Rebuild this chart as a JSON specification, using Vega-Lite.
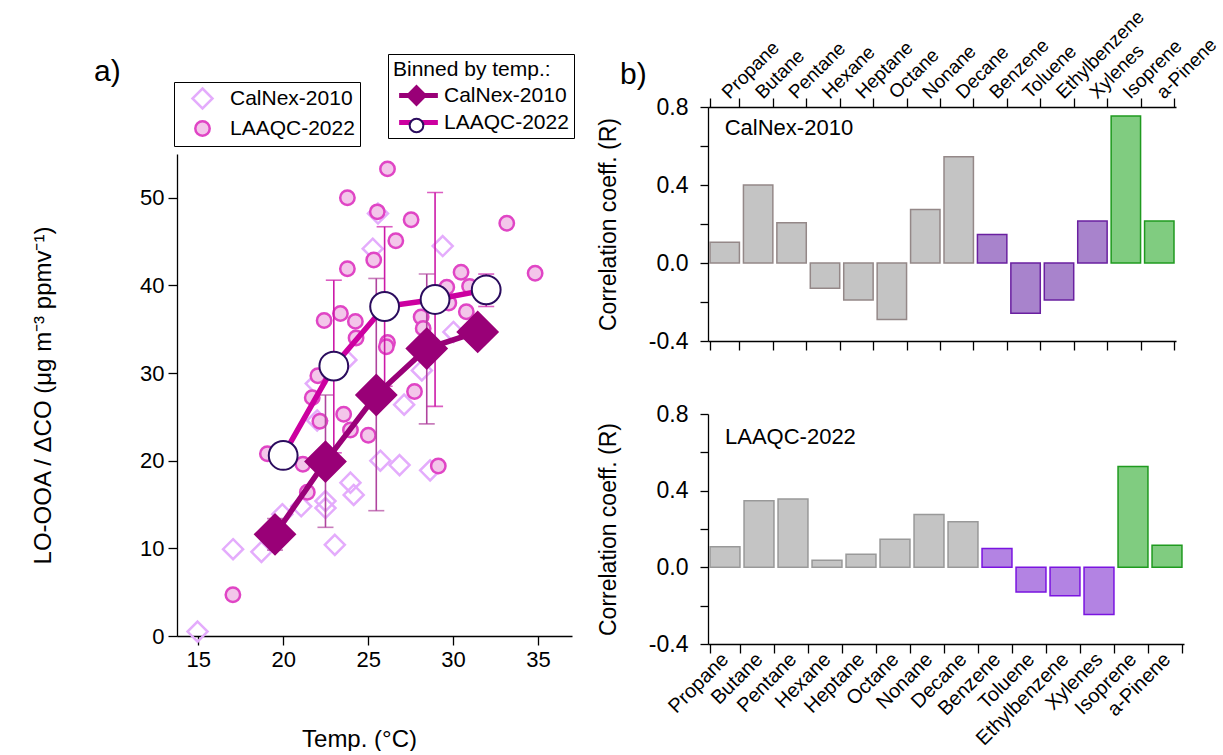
{
  "$schema": "https://vega.github.io/schema/vega-lite/v6.json",
  "background": "white",
  "padding": {"left": 31, "top": 7, "right": 0, "bottom": 0},
  "config": {
    "font": "Liberation Sans",
    "view": {"stroke": null},
    "axis": {"grid": false, "domainColor": "black", "tickColor": "black", "labelColor": "black", "titleColor": "black", "titleFontWeight": "normal", "domainWidth": 1.3, "tickWidth": 1.3, "labelFont": "Liberation Sans", "titleFont": "Liberation Sans"},
    "legend": {"labelFont": "Liberation Sans", "titleFont": "Liberation Sans", "labelColor": "black", "titleColor": "black"},
    "title": {"font": "Liberation Sans", "color": "black", "fontWeight": "normal"}
  },
  "datasets": {
    "temp": [
      {"kind": "raw", "campaign": "CalNex-2010", "T": 14.96, "R": 0.5},
      {"kind": "raw", "campaign": "CalNex-2010", "T": 17.05, "R": 9.9},
      {"kind": "raw", "campaign": "CalNex-2010", "T": 18.72, "R": 9.6},
      {"kind": "raw", "campaign": "CalNex-2010", "T": 19.95, "R": 13.9},
      {"kind": "raw", "campaign": "CalNex-2010", "T": 21.06, "R": 14.8},
      {"kind": "raw", "campaign": "CalNex-2010", "T": 22.49, "R": 15.4},
      {"kind": "raw", "campaign": "CalNex-2010", "T": 22.49, "R": 14.6},
      {"kind": "raw", "campaign": "CalNex-2010", "T": 23.04, "R": 10.4},
      {"kind": "raw", "campaign": "CalNex-2010", "T": 23.96, "R": 17.5},
      {"kind": "raw", "campaign": "CalNex-2010", "T": 24.15, "R": 16.1},
      {"kind": "raw", "campaign": "CalNex-2010", "T": 25.72, "R": 20.0},
      {"kind": "raw", "campaign": "CalNex-2010", "T": 26.85, "R": 19.5},
      {"kind": "raw", "campaign": "CalNex-2010", "T": 28.65, "R": 18.9},
      {"kind": "raw", "campaign": "CalNex-2010", "T": 22.0, "R": 24.6},
      {"kind": "raw", "campaign": "CalNex-2010", "T": 21.92, "R": 28.8},
      {"kind": "raw", "campaign": "CalNex-2010", "T": 23.72, "R": 31.5},
      {"kind": "raw", "campaign": "CalNex-2010", "T": 27.12, "R": 26.4},
      {"kind": "raw", "campaign": "CalNex-2010", "T": 28.16, "R": 30.3},
      {"kind": "raw", "campaign": "CalNex-2010", "T": 30.02, "R": 34.7},
      {"kind": "raw", "campaign": "CalNex-2010", "T": 25.27, "R": 44.2},
      {"kind": "raw", "campaign": "CalNex-2010", "T": 25.58, "R": 48.2},
      {"kind": "raw", "campaign": "CalNex-2010", "T": 29.39, "R": 44.5},
      {"kind": "raw", "campaign": "LAAQC-2022", "T": 26.14, "R": 53.3},
      {"kind": "raw", "campaign": "LAAQC-2022", "T": 23.78, "R": 50.0},
      {"kind": "raw", "campaign": "LAAQC-2022", "T": 25.54, "R": 48.4},
      {"kind": "raw", "campaign": "LAAQC-2022", "T": 27.53, "R": 47.5},
      {"kind": "raw", "campaign": "LAAQC-2022", "T": 26.63, "R": 45.1},
      {"kind": "raw", "campaign": "LAAQC-2022", "T": 25.33, "R": 42.9},
      {"kind": "raw", "campaign": "LAAQC-2022", "T": 33.16, "R": 47.1},
      {"kind": "raw", "campaign": "LAAQC-2022", "T": 34.83, "R": 41.4},
      {"kind": "raw", "campaign": "LAAQC-2022", "T": 23.78, "R": 41.9},
      {"kind": "raw", "campaign": "LAAQC-2022", "T": 30.47, "R": 41.5},
      {"kind": "raw", "campaign": "LAAQC-2022", "T": 29.63, "R": 39.8},
      {"kind": "raw", "campaign": "LAAQC-2022", "T": 30.97, "R": 39.9},
      {"kind": "raw", "campaign": "LAAQC-2022", "T": 29.75, "R": 38.0},
      {"kind": "raw", "campaign": "LAAQC-2022", "T": 30.78, "R": 37.0},
      {"kind": "raw", "campaign": "LAAQC-2022", "T": 28.12, "R": 36.4},
      {"kind": "raw", "campaign": "LAAQC-2022", "T": 28.24, "R": 35.1},
      {"kind": "raw", "campaign": "LAAQC-2022", "T": 22.41, "R": 36.0},
      {"kind": "raw", "campaign": "LAAQC-2022", "T": 23.37, "R": 36.8},
      {"kind": "raw", "campaign": "LAAQC-2022", "T": 24.25, "R": 35.9},
      {"kind": "raw", "campaign": "LAAQC-2022", "T": 24.29, "R": 34.0},
      {"kind": "raw", "campaign": "LAAQC-2022", "T": 26.14, "R": 33.5},
      {"kind": "raw", "campaign": "LAAQC-2022", "T": 26.07, "R": 33.0},
      {"kind": "raw", "campaign": "LAAQC-2022", "T": 22.04, "R": 29.7},
      {"kind": "raw", "campaign": "LAAQC-2022", "T": 21.71, "R": 27.2},
      {"kind": "raw", "campaign": "LAAQC-2022", "T": 27.73, "R": 27.9},
      {"kind": "raw", "campaign": "LAAQC-2022", "T": 23.56, "R": 25.3},
      {"kind": "raw", "campaign": "LAAQC-2022", "T": 22.16, "R": 24.5},
      {"kind": "raw", "campaign": "LAAQC-2022", "T": 23.96, "R": 23.5},
      {"kind": "raw", "campaign": "LAAQC-2022", "T": 25.01, "R": 22.9},
      {"kind": "raw", "campaign": "LAAQC-2022", "T": 19.07, "R": 20.8},
      {"kind": "raw", "campaign": "LAAQC-2022", "T": 21.16, "R": 19.6},
      {"kind": "raw", "campaign": "LAAQC-2022", "T": 29.13, "R": 19.4},
      {"kind": "raw", "campaign": "LAAQC-2022", "T": 21.42, "R": 16.4},
      {"kind": "raw", "campaign": "LAAQC-2022", "T": 17.04, "R": 4.7},
      {"kind": "bin", "campaign": "CalNex-2010", "T": 19.52, "R": 11.6, "lo": 9.8, "hi": 13.4},
      {"kind": "bin", "campaign": "CalNex-2010", "T": 22.49, "R": 19.9, "lo": 12.4, "hi": 27.5},
      {"kind": "bin", "campaign": "CalNex-2010", "T": 25.48, "R": 27.5, "lo": 14.3, "hi": 40.8},
      {"kind": "bin", "campaign": "CalNex-2010", "T": 28.45, "R": 32.8, "lo": 24.2, "hi": 41.3},
      {"kind": "bin", "campaign": "CalNex-2010", "T": 31.45, "R": 34.7},
      {"kind": "bin", "campaign": "LAAQC-2022", "T": 20.0, "R": 20.6},
      {"kind": "bin", "campaign": "LAAQC-2022", "T": 22.98, "R": 30.8, "lo": 20.9, "hi": 40.6},
      {"kind": "bin", "campaign": "LAAQC-2022", "T": 25.97, "R": 37.6, "lo": 28.5, "hi": 46.7},
      {"kind": "bin", "campaign": "LAAQC-2022", "T": 28.94, "R": 38.4, "lo": 26.2, "hi": 50.6},
      {"kind": "bin", "campaign": "LAAQC-2022", "T": 31.95, "R": 39.5, "lo": 37.6, "hi": 41.3}
    ],
    "corr": [
      {"campaign": "CalNex-2010", "compound": "Propane", "group": "alkane", "R": 0.107},
      {"campaign": "CalNex-2010", "compound": "Butane", "group": "alkane", "R": 0.40},
      {"campaign": "CalNex-2010", "compound": "Pentane", "group": "alkane", "R": 0.206},
      {"campaign": "CalNex-2010", "compound": "Hexane", "group": "alkane", "R": -0.13},
      {"campaign": "CalNex-2010", "compound": "Heptane", "group": "alkane", "R": -0.19},
      {"campaign": "CalNex-2010", "compound": "Octane", "group": "alkane", "R": -0.29},
      {"campaign": "CalNex-2010", "compound": "Nonane", "group": "alkane", "R": 0.275},
      {"campaign": "CalNex-2010", "compound": "Decane", "group": "alkane", "R": 0.545},
      {"campaign": "CalNex-2010", "compound": "Benzene", "group": "aromatic", "R": 0.146},
      {"campaign": "CalNex-2010", "compound": "Toluene", "group": "aromatic", "R": -0.258},
      {"campaign": "CalNex-2010", "compound": "Ethylbenzene", "group": "aromatic", "R": -0.19},
      {"campaign": "CalNex-2010", "compound": "Xylenes", "group": "aromatic", "R": 0.215},
      {"campaign": "CalNex-2010", "compound": "Isoprene", "group": "biogenic", "R": 0.754},
      {"campaign": "CalNex-2010", "compound": "a-Pinene", "group": "biogenic", "R": 0.215},
      {"campaign": "LAAQC-2022", "compound": "Propane", "group": "alkane", "R": 0.107},
      {"campaign": "LAAQC-2022", "compound": "Butane", "group": "alkane", "R": 0.348},
      {"campaign": "LAAQC-2022", "compound": "Pentane", "group": "alkane", "R": 0.356},
      {"campaign": "LAAQC-2022", "compound": "Hexane", "group": "alkane", "R": 0.037},
      {"campaign": "LAAQC-2022", "compound": "Heptane", "group": "alkane", "R": 0.068},
      {"campaign": "LAAQC-2022", "compound": "Octane", "group": "alkane", "R": 0.147},
      {"campaign": "LAAQC-2022", "compound": "Nonane", "group": "alkane", "R": 0.276},
      {"campaign": "LAAQC-2022", "compound": "Decane", "group": "alkane", "R": 0.238},
      {"campaign": "LAAQC-2022", "compound": "Benzene", "group": "aromatic", "R": 0.098},
      {"campaign": "LAAQC-2022", "compound": "Toluene", "group": "aromatic", "R": -0.129},
      {"campaign": "LAAQC-2022", "compound": "Ethylbenzene", "group": "aromatic", "R": -0.148},
      {"campaign": "LAAQC-2022", "compound": "Xylenes", "group": "aromatic", "R": -0.246},
      {"campaign": "LAAQC-2022", "compound": "Isoprene", "group": "biogenic", "R": 0.526},
      {"campaign": "LAAQC-2022", "compound": "a-Pinene", "group": "biogenic", "R": 0.115}
    ],
    "ann": [
      {"campaign": "CalNex-2010", "compound": "Propane", "R": 0.69, "label": "CalNex-2010"},
      {"campaign": "LAAQC-2022", "compound": "Propane", "R": 0.68, "label": "LAAQC-2022"}
    ]
  },
  "spacing": 22,
  "hconcat": [
    {
      "width": 395,
      "height": 529,
      "title": {"text": "a)", "anchor": "start", "frame": "group", "fontSize": 30, "offset": -33, "dx": -83},
      "data": {"name": "temp"},
      "layer": [
        {
          "transform": [{"filter": "datum.kind == 'raw'"}],
          "mark": {"type": "point", "filled": true, "opacity": 1, "size": 400, "strokeWidth": 2.5},
          "encoding": {
            "x": {"field": "T", "type": "quantitative", "scale": {"domain": [13.75, 37], "nice": false, "zero": false},
              "axis": {"values": [15, 20, 25, 30, 35], "title": "Temp. (°C)", "titleFontSize": 24, "titlePadding": 57, "titleX": 182, "labelFontSize": 22, "tickSize": 9, "labelPadding": 4}},
            "y": {"field": "R", "type": "quantitative", "scale": {"domain": [0, 55], "range": [529, 47], "nice": false, "zero": false},
              "axis": {"values": [0, 10, 20, 30, 40, 50], "title": "LO-OOA / ΔCO (μg m⁻³ ppmv⁻¹)", "titleFontSize": 24, "titlePadding": 84, "titleY": 288, "labelFontSize": 22, "tickSize": 9, "labelPadding": 4}},
            "shape": {"field": "campaign", "type": "nominal", "scale": {"range": ["M0,-1L1,0L0,1L-1,0Z", "M0.72,0A0.72,0.72,0,1,1,-0.72,0A0.72,0.72,0,1,1,0.72,0Z"]},
              "legend": {"orient": "none", "legendX": -3, "legendY": -25, "title": null, "strokeColor": "black", "fillColor": "white", "padding": 5, "symbolSize": 400, "symbolStrokeWidth": 2.5, "symbolOffset": 12, "labelOffset": 16, "labelFontSize": 21, "rowPadding": 2}},
            "fill": {"field": "campaign", "type": "nominal", "scale": {"range": ["transparent", "#f3c6ea"]}},
            "stroke": {"field": "campaign", "type": "nominal", "scale": {"range": ["#e4acfc", "#e045c5"]}}
          }
        },
        {
          "transform": [{"filter": "datum.kind == 'bin' && datum.campaign == 'CalNex-2010' && isValid(datum.lo)"}],
          "mark": {"type": "errorbar", "ticks": true, "size": 16, "thickness": 1.6, "color": "#b0449e"},
          "encoding": {
            "x": {"field": "T", "type": "quantitative", "scale": {"domain": [13.75, 37], "nice": false, "zero": false},
              "axis": {"values": [15, 20, 25, 30, 35], "title": "Temp. (°C)", "titleFontSize": 24, "titlePadding": 57, "titleX": 182, "labelFontSize": 22, "tickSize": 9, "labelPadding": 4}},
            "y": {"field": "lo", "type": "quantitative", "scale": {"domain": [0, 55], "range": [529, 47], "nice": false, "zero": false},
              "axis": {"values": [0, 10, 20, 30, 40, 50], "title": "LO-OOA / ΔCO (μg m⁻³ ppmv⁻¹)", "titleFontSize": 24, "titlePadding": 84, "titleY": 288, "labelFontSize": 22, "tickSize": 9, "labelPadding": 4}},
            "y2": {"field": "hi"}
          }
        },
        {
          "transform": [{"filter": "datum.kind == 'bin' && datum.campaign == 'LAAQC-2022' && isValid(datum.lo)"}],
          "mark": {"type": "errorbar", "ticks": true, "size": 16, "thickness": 1.6, "color": "#cc1aa8"},
          "encoding": {
            "x": {"field": "T", "type": "quantitative", "scale": {"domain": [13.75, 37], "nice": false, "zero": false},
              "axis": {"values": [15, 20, 25, 30, 35], "title": "Temp. (°C)", "titleFontSize": 24, "titlePadding": 57, "titleX": 182, "labelFontSize": 22, "tickSize": 9, "labelPadding": 4}},
            "y": {"field": "lo", "type": "quantitative", "scale": {"domain": [0, 55], "range": [529, 47], "nice": false, "zero": false},
              "axis": {"values": [0, 10, 20, 30, 40, 50], "title": "LO-OOA / ΔCO (μg m⁻³ ppmv⁻¹)", "titleFontSize": 24, "titlePadding": 84, "titleY": 288, "labelFontSize": 22, "tickSize": 9, "labelPadding": 4}},
            "y2": {"field": "hi"}
          }
        },
        {
          "transform": [{"filter": "datum.kind == 'bin'"}],
          "mark": {"type": "line", "strokeWidth": 5.5},
          "encoding": {
            "x": {"field": "T", "type": "quantitative", "scale": {"domain": [13.75, 37], "nice": false, "zero": false},
              "axis": {"values": [15, 20, 25, 30, 35], "title": "Temp. (°C)", "titleFontSize": 24, "titlePadding": 57, "titleX": 182, "labelFontSize": 22, "tickSize": 9, "labelPadding": 4}},
            "y": {"field": "R", "type": "quantitative", "scale": {"domain": [0, 55], "range": [529, 47], "nice": false, "zero": false},
              "axis": {"values": [0, 10, 20, 30, 40, 50], "title": "LO-OOA / ΔCO (μg m⁻³ ppmv⁻¹)", "titleFontSize": 24, "titlePadding": 84, "titleY": 288, "labelFontSize": 22, "tickSize": 9, "labelPadding": 4}},
            "stroke": {"field": "campaign", "type": "nominal", "scale": {"range": ["#990077", "#cc00a0"]},
              "legend": {"orient": "none", "legendX": 211, "legendY": -53, "title": "Binned by temp.:", "titleFontSize": 21, "titleFontWeight": "normal", "titlePadding": 5, "titleLimit": 300, "strokeColor": "black", "fillColor": "white", "padding": 5, "symbolType": "M-3.4,0H3.4", "symbolSize": 130, "symbolStrokeWidth": 5, "symbolOffset": 15, "labelOffset": 15, "labelFontSize": 21, "rowPadding": 5}}
          }
        },
        {
          "transform": [{"filter": "datum.kind == 'bin'"}],
          "mark": {"type": "point", "filled": true, "opacity": 1, "size": 1600, "strokeWidth": 2},
          "encoding": {
            "x": {"field": "T", "type": "quantitative", "scale": {"domain": [13.75, 37], "nice": false, "zero": false},
              "axis": {"values": [15, 20, 25, 30, 35], "title": "Temp. (°C)", "titleFontSize": 24, "titlePadding": 57, "titleX": 182, "labelFontSize": 22, "tickSize": 9, "labelPadding": 4}},
            "y": {"field": "R", "type": "quantitative", "scale": {"domain": [0, 55], "range": [529, 47], "nice": false, "zero": false},
              "axis": {"values": [0, 10, 20, 30, 40, 50], "title": "LO-OOA / ΔCO (μg m⁻³ ppmv⁻¹)", "titleFontSize": 24, "titlePadding": 84, "titleY": 288, "labelFontSize": 22, "tickSize": 9, "labelPadding": 4}},
            "shape": {"field": "campaign", "type": "nominal", "scale": {"range": ["M0,-1L1,0L0,1L-1,0Z", "M0.72,0A0.72,0.72,0,1,1,-0.72,0A0.72,0.72,0,1,1,0.72,0Z"]},
              "legend": {"orient": "none", "legendX": 211, "legendY": -53, "title": " ", "titleFontSize": 21, "titleFontWeight": "normal", "titlePadding": 5, "titleOpacity": 0, "labelExpr": "''", "labelOpacity": 0, "padding": 5, "symbolSize": 360, "symbolStrokeWidth": 2, "symbolOffset": 13, "labelOffset": 15, "labelFontSize": 21, "rowPadding": 5}},
            "fill": {"field": "campaign", "type": "nominal", "scale": {"range": ["#990077", "white"]}},
            "stroke": {"field": "campaign", "type": "nominal", "scale": {"range": ["#990077", "#2b0c5e"]}}
          }
        }
      ],
      "resolve": {"scale": {"shape": "independent", "fill": "independent", "stroke": "independent"}}
    },
    {
      "spacing": 50,
      "resolve": {"scale": {"fill": "independent", "stroke": "independent"}},
      "vconcat": [
        {
          "width": 468,
          "height": 234,
          "title": {"text": "b)", "anchor": "start", "frame": "group", "fontSize": 30, "offset": -83, "dx": -88},
          "layer": [
            {
              "data": {"name": "corr"},
              "transform": [{"filter": "datum.campaign == 'CalNex-2010'"}],
              "mark": {"type": "bar", "strokeWidth": 1.5},
              "encoding": {
                "x": {"field": "compound", "type": "nominal", "sort": null,
                  "scale": {"domain": ["Propane", "Butane", "Pentane", "Hexane", "Heptane", "Octane", "Nonane", "Decane", "Benzene", "Toluene", "Ethylbenzene", "Xylenes", "Isoprene", "a-Pinene"], "paddingInner": 0.12, "paddingOuter": 0.06},
                  "axis": {"orient": "top", "title": null, "labelAngle": -45, "labelAlign": "left", "labelBaseline": "middle", "tickBand": "extent", "tickSize": 9, "labelPadding": 3, "labelFontSize": 19}},
                "y": {"field": "R", "type": "quantitative", "scale": {"domain": [-0.4, 0.8], "nice": false},
                  "axis": {"values": [-0.4, -0.2, 0, 0.2, 0.4, 0.6, 0.8], "labelExpr": "abs((datum.value*10) % 4) > 0.01 ? '' : (datum.value < 0 ? '-' : '') + format(abs(datum.value), '.1f')", "title": "Correlation coeff. (R)", "titleFontSize": 23, "titlePadding": 28, "labelFontSize": 23, "tickSize": 8, "labelPadding": 12}},
                "fill": {"field": "group", "type": "nominal", "scale": {"domain": ["alkane", "aromatic", "biogenic"], "range": ["#c4c4c4", "#a883cc", "#80cc80"]}, "legend": null},
                "stroke": {"field": "group", "type": "nominal", "scale": {"domain": ["alkane", "aromatic", "biogenic"], "range": ["#948888", "#6a20a0", "#1f9a1f"]}, "legend": null}
              }
            },
            {
              "data": {"name": "ann"},
              "transform": [{"filter": "datum.campaign == 'CalNex-2010'"}],
              "mark": {"type": "text", "align": "left", "baseline": "middle", "fontSize": 22, "color": "black"},
              "encoding": {
                "x": {"field": "compound", "type": "nominal", "sort": null,
                  "scale": {"domain": ["Propane", "Butane", "Pentane", "Hexane", "Heptane", "Octane", "Nonane", "Decane", "Benzene", "Toluene", "Ethylbenzene", "Xylenes", "Isoprene", "a-Pinene"], "paddingInner": 0.12, "paddingOuter": 0.06},
                  "axis": {"orient": "bottom", "title": null, "labels": false, "tickBand": "extent", "tickSize": 9}},
                "y": {"field": "R", "type": "quantitative", "scale": {"domain": [-0.4, 0.8], "nice": false},
                  "axis": {"values": [-0.4, -0.2, 0, 0.2, 0.4, 0.6, 0.8], "labelExpr": "abs((datum.value*10) % 4) > 0.01 ? '' : (datum.value < 0 ? '-' : '') + format(abs(datum.value), '.1f')", "title": "Correlation coeff. (R)", "titleFontSize": 23, "titlePadding": 28, "labelFontSize": 23, "tickSize": 8, "labelPadding": 12}},
                "text": {"field": "label"}
              }
            }
          ],
          "resolve": {"axis": {"x": "independent"}}
        },
        {
          "width": 476,
          "height": 230,
          "layer": [
            {
              "data": {"name": "corr"},
              "transform": [{"filter": "datum.campaign == 'LAAQC-2022'"}],
              "mark": {"type": "bar", "strokeWidth": 1.5},
              "encoding": {
                "x": {"field": "compound", "type": "nominal", "sort": null,
                  "scale": {"domain": ["Propane", "Butane", "Pentane", "Hexane", "Heptane", "Octane", "Nonane", "Decane", "Benzene", "Toluene", "Ethylbenzene", "Xylenes", "Isoprene", "a-Pinene"], "paddingInner": 0.12, "paddingOuter": 0.06},
                  "axis": {"orient": "bottom", "title": null, "labelAngle": -45, "labelAlign": "right", "labelBaseline": "middle", "tickBand": "extent", "tickSize": 9, "labelPadding": 3, "labelFontSize": 20}},
                "y": {"field": "R", "type": "quantitative", "scale": {"domain": [-0.4, 0.8], "nice": false},
                  "axis": {"values": [-0.4, -0.2, 0, 0.2, 0.4, 0.6, 0.8], "labelExpr": "abs((datum.value*10) % 4) > 0.01 ? '' : (datum.value < 0 ? '-' : '') + format(abs(datum.value), '.1f')", "title": "Correlation coeff. (R)", "titleFontSize": 23, "titlePadding": 28, "labelFontSize": 23, "tickSize": 8, "labelPadding": 12}},
                "fill": {"field": "group", "type": "nominal", "scale": {"domain": ["alkane", "aromatic", "biogenic"], "range": ["#c4c4c4", "#b383e3", "#80cc80"]}, "legend": null},
                "stroke": {"field": "group", "type": "nominal", "scale": {"domain": ["alkane", "aromatic", "biogenic"], "range": ["#999999", "#7a14e0", "#1f9a1f"]}, "legend": null}
              }
            },
            {
              "data": {"name": "ann"},
              "transform": [{"filter": "datum.campaign == 'LAAQC-2022'"}],
              "mark": {"type": "text", "align": "left", "baseline": "middle", "fontSize": 22, "color": "black"},
              "encoding": {
                "x": {"field": "compound", "type": "nominal", "sort": null,
                  "scale": {"domain": ["Propane", "Butane", "Pentane", "Hexane", "Heptane", "Octane", "Nonane", "Decane", "Benzene", "Toluene", "Ethylbenzene", "Xylenes", "Isoprene", "a-Pinene"], "paddingInner": 0.12, "paddingOuter": 0.06},
                  "axis": {"orient": "bottom", "title": null, "labelAngle": -45, "labelAlign": "right", "labelBaseline": "middle", "tickBand": "extent", "tickSize": 9, "labelPadding": 3, "labelFontSize": 20}},
                "y": {"field": "R", "type": "quantitative", "scale": {"domain": [-0.4, 0.8], "nice": false},
                  "axis": {"values": [-0.4, -0.2, 0, 0.2, 0.4, 0.6, 0.8], "labelExpr": "abs((datum.value*10) % 4) > 0.01 ? '' : (datum.value < 0 ? '-' : '') + format(abs(datum.value), '.1f')", "title": "Correlation coeff. (R)", "titleFontSize": 23, "titlePadding": 28, "labelFontSize": 23, "tickSize": 8, "labelPadding": 12}},
                "text": {"field": "label"}
              }
            }
          ]
        }
      ]
    }
  ]
}
